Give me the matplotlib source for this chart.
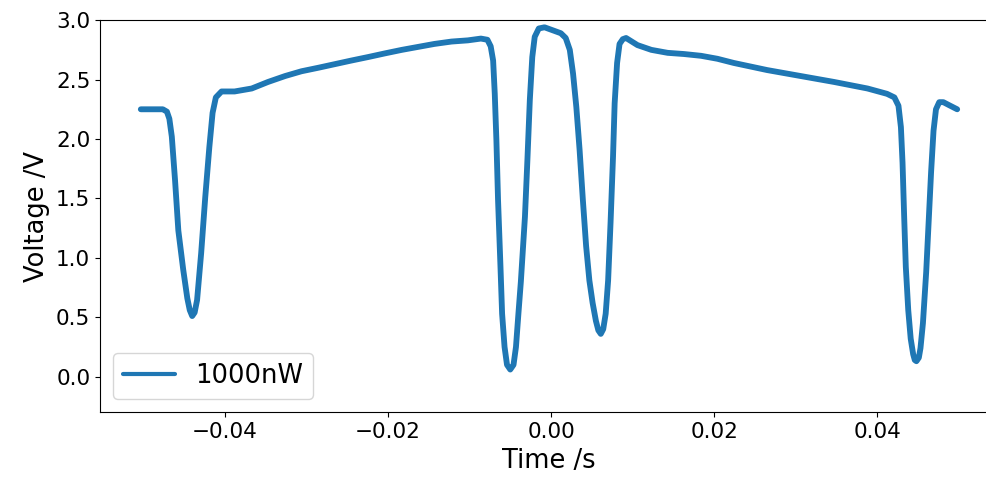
import numpy as np
import matplotlib
matplotlib.use("Agg")
import matplotlib.pyplot as plt

# trace (time in s, voltage in V)
time_s = [
    -0.0503, -0.0490, -0.0476, -0.0471, -0.0468, -0.0465, -0.0461, -0.0457, -0.0451, -0.0446,
    -0.0443, -0.0440, -0.0437, -0.0434, -0.0429, -0.0424, -0.0419, -0.0415, -0.0411, -0.0404,
    -0.0388, -0.0367, -0.0347, -0.0326, -0.0306, -0.0285, -0.0265, -0.0245, -0.0224, -0.0204,
    -0.0183, -0.0163, -0.0143, -0.0122, -0.0102, -0.0086, -0.0078, -0.0074, -0.0071, -0.0069,
    -0.0067, -0.0065, -0.0062, -0.0060, -0.0057, -0.0054, -0.0050, -0.0046, -0.0043, -0.0040,
    -0.0037, -0.0032, -0.0029, -0.0026, -0.0023, -0.0020, -0.0015, -0.0008, 0.0000, 0.0012,
    0.0018, 0.0023, 0.0027, 0.0031, 0.0035, 0.0039, 0.0043, 0.0047, 0.0051, 0.0055,
    0.0058, 0.0061, 0.0064, 0.0067, 0.0070, 0.0073, 0.0076, 0.0078, 0.0081, 0.0084,
    0.0088, 0.0092, 0.0106, 0.0123, 0.0143, 0.0163, 0.0184, 0.0204, 0.0224, 0.0265,
    0.0306, 0.0347, 0.0388, 0.0412, 0.0421, 0.0426, 0.0429, 0.0431, 0.0433, 0.0435,
    0.0438, 0.0441, 0.0444, 0.0446, 0.0448, 0.0451, 0.0453, 0.0456, 0.0460, 0.0463,
    0.0466, 0.0469, 0.0472, 0.0476, 0.0481, 0.0488, 0.0498,
]
voltage_v = [
    2.25, 2.25, 2.25, 2.23, 2.17, 2.02, 1.65, 1.23, 0.90, 0.66,
    0.56, 0.51, 0.54, 0.645, 1.04, 1.51, 1.93, 2.22, 2.35, 2.40,
    2.40, 2.425, 2.48, 2.53, 2.57, 2.60, 2.63, 2.66, 2.69, 2.72,
    2.75, 2.775, 2.80, 2.82, 2.83, 2.845, 2.835, 2.78, 2.66, 2.38,
    1.99, 1.49, 0.925, 0.53, 0.25, 0.10, 0.06, 0.10, 0.25, 0.53,
    0.80, 1.345, 1.82, 2.33, 2.69, 2.86, 2.93, 2.94, 2.92, 2.89,
    2.85, 2.75, 2.55, 2.27, 1.91, 1.49, 1.10, 0.81, 0.62, 0.47,
    0.39, 0.36, 0.40, 0.53, 0.81, 1.30, 1.85, 2.30, 2.64, 2.80,
    2.84, 2.85, 2.79, 2.75, 2.725, 2.715, 2.70, 2.675, 2.64, 2.58,
    2.53, 2.48, 2.425, 2.38, 2.35, 2.28, 2.10, 1.80, 1.345, 0.925,
    0.56, 0.32, 0.19, 0.14, 0.13, 0.16, 0.24, 0.45, 0.88, 1.30,
    1.72, 2.07, 2.25, 2.31, 2.31, 2.285, 2.25,
]
series_label = "1000nW"

fig = plt.figure(figsize=(9.87, 4.8), dpi=100)
# the original picture is cut off on the right, so the axes run past the edge
ax = fig.add_axes([100 / 987, 0.141, 898 / 987, 0.817])

ax.plot(time_s, voltage_v, color="#1f77b4", linewidth=4.2, solid_capstyle="round",
        solid_joinstyle="round", label=series_label)
ax.set_ylim(-0.3, 3.0)

ax.set_xlabel("Time /s", fontsize=18.5)
ax.set_ylabel("Voltage /V", fontsize=18.5)
ax.tick_params(labelsize=15.5)

leg = ax.legend(loc="lower left", fontsize=18.5)
leg.get_lines()[0].set_linewidth(3)

fig.savefig("out.png", dpi=100)
